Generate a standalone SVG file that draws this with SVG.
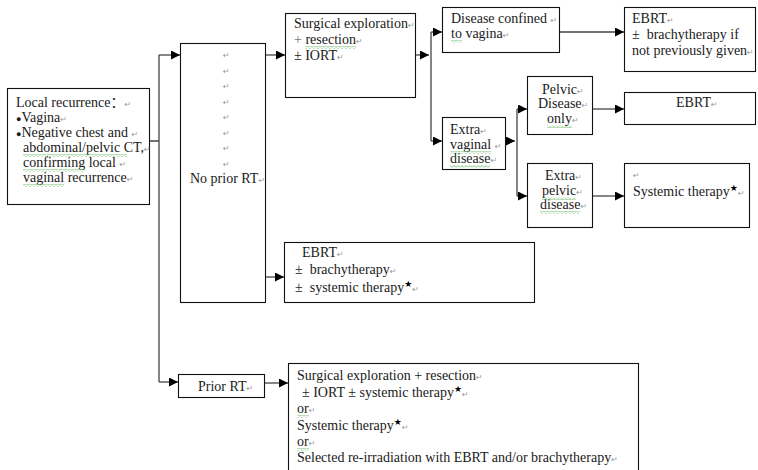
<svg xmlns="http://www.w3.org/2000/svg" width="758" height="470" viewBox="0 0 758 470">
  <style>
    .box { fill: #fff; stroke: #111; stroke-width: 1.1; }
    .t { font-size: 14px; fill: #1a1a1a; }
    .pm { font-family: 'DejaVu Sans', sans-serif; font-size: 8px; fill: #999; }
    .star { font-family: 'DejaVu Sans', sans-serif; font-size: 9px; fill: #000; }
    .ln { fill: none; stroke: #444; stroke-width: 1.3; }
    .ar { fill: none; stroke: #444; stroke-width: 1.3; marker-end: url(#ah); }
    .sq { fill: url(#wave); }
  </style>
  <defs>
    <marker id="ah" viewBox="0 0 10 10" refX="10" refY="5" markerWidth="9" markerHeight="9" markerUnits="userSpaceOnUse" orient="auto">
      <path d="M0,0 L10,5 L0,10 Z" fill="#000"/>
    </marker>
    <!-- wavy spell-check underline -->
    <pattern id="wave" width="4" height="3" patternUnits="userSpaceOnUse">
      <path d="M0,2.5 L2,0.5 L4,2.5" fill="none" stroke="#62b862" stroke-width="0.9"/>
    </pattern>
  </defs>
  <rect width="758" height="470" fill="#fff"/>

  <!-- connectors -->
  <g id="connectors">
    <path class="ln" d="M150,141 H159 M159,55 V382"/>
    <path class="ar" d="M159,55 H180"/>
    <path class="ar" d="M159,382 H178"/>
    <path class="ar" d="M266,55 H285"/>
    <path class="ar" d="M266,277 H284"/>
    <path class="ar" d="M265,383 H288"/>
    <path class="ar" d="M416,55 H429"/>
    <path class="ln" d="M431,32 V141"/>
    <path class="ar" d="M431,32 H442"/>
    <path class="ar" d="M431,141 H442"/>
    <path class="ar" d="M560,32 H624"/>
    <path class="ar" d="M506,141 H515"/>
    <path class="ln" d="M517,109 V196"/>
    <path class="ar" d="M517,109 H527"/>
    <path class="ar" d="M517,196 H527"/>
    <path class="ar" d="M593,109 H624"/>
    <path class="ar" d="M593,196 H624"/>
  </g>

  <g font-family="Liberation Serif, Times New Roman, Noto Sans CJK SC, serif">
  <!-- entry condition -->
  <g id="local-recurrence">
    <rect class="box" x="7.5" y="88.5" width="142" height="116"/>
    <text class="t" x="16" y="107">Local recurrence<tspan font-family="Noto Sans CJK SC, sans-serif">：</tspan><tspan class="pm">↵</tspan></text>
    <text class="t" x="16" y="122"><tspan font-size="9">●</tspan>Vagina<tspan class="pm">↵</tspan></text>
    <text class="t" x="16" y="137"><tspan font-size="9">●</tspan>Negative chest and <tspan class="pm">↵</tspan></text>
    <text class="t" x="23" y="152">abdominal/pelvic CT,<tspan class="pm">↵</tspan></text>
    <text class="t" x="23" y="167">confirming local <tspan class="pm">↵</tspan></text>
    <text class="t" x="23" y="182">vaginal recurrence<tspan class="pm">↵</tspan></text>
    <rect class="sq" x="23" y="154" width="104" height="3"/>
    <rect class="sq" x="23" y="169" width="62" height="3"/>
    <rect class="sq" x="23" y="184" width="41" height="3"/>
  </g>

  <g id="no-prior-rt">
    <rect class="box" x="180.5" y="43.5" width="85" height="259"/>
    <text class="pm" x="223" y="58">↵</text>
    <text class="pm" x="223" y="74">↵</text>
    <text class="pm" x="223" y="89">↵</text>
    <text class="pm" x="223" y="105">↵</text>
    <text class="pm" x="223" y="120">↵</text>
    <text class="pm" x="223" y="136">↵</text>
    <text class="pm" x="223" y="151">↵</text>
    <text class="pm" x="223" y="167">↵</text>
    <text class="t" x="190" y="183">No prior RT<tspan class="pm">↵</tspan></text>
  </g>

  <g id="prior-rt">
    <rect class="box" x="178.5" y="374.5" width="86" height="23"/>
    <text class="t" x="198" y="391">Prior RT<tspan class="pm">↵</tspan></text>
  </g>

  <g id="surgical-exploration">
    <rect class="box" x="285.5" y="13.5" width="130" height="84"/>
    <text class="t" x="294" y="28" textLength="114" lengthAdjust="spacing">Surgical exploration</text>
    <text class="pm" x="408" y="28">↵</text>
    <text class="t" x="294" y="44"><tspan fill="#777">+</tspan> resection<tspan class="pm">↵</tspan></text>
    <text class="t" x="294" y="60">± IORT<tspan class="pm">↵</tspan></text>
    <rect class="sq" x="305" y="46" width="51" height="3"/>
  </g>

  <g id="ebrt-no-prior">
    <rect class="box" x="284.5" y="242.5" width="250" height="60"/>
    <text class="t" x="302" y="257">EBRT<tspan class="pm">↵</tspan></text>
    <text class="t" x="295" y="274">±&#160; brachytherapy<tspan class="pm">↵</tspan></text>
    <text class="t" x="295" y="292">±&#160; systemic therapy<tspan class="star" dy="-5">★</tspan><tspan class="pm" dy="5">↵</tspan></text>
  </g>

  <g id="disease-confined">
    <rect class="box" x="442.5" y="7.5" width="117" height="45"/>
    <text class="t" x="451" y="23">Disease confined <tspan class="pm">↵</tspan></text>
    <text class="t" x="451" y="38">to vagina<tspan class="pm">↵</tspan></text>
    <rect class="sq" x="451" y="40" width="11" height="3"/>
  </g>

  <g id="ebrt-brachy">
    <rect class="box" x="624.5" y="7.5" width="131" height="64"/>
    <text class="t" x="632" y="23">EBRT<tspan class="pm">↵</tspan></text>
    <text class="t" x="632" y="39">±&#160; brachytherapy if</text>
    <text class="t" x="632" y="55">not previously given<tspan class="pm">↵</tspan></text>
  </g>

  <g id="extra-vaginal">
    <rect class="box" x="442.5" y="117.5" width="63" height="52"/>
    <text class="t" x="450" y="134">Extra<tspan class="pm">↵</tspan></text>
    <text class="t" x="450" y="149">vaginal <tspan class="pm">↵</tspan></text>
    <text class="t" x="450" y="163">disease<tspan class="pm">↵</tspan></text>
    <rect class="sq" x="450" y="151" width="41" height="3"/>
    <rect class="sq" x="450" y="165" width="40" height="3"/>
  </g>

  <g id="pelvic-only">
    <rect class="box" x="527.5" y="76.5" width="65" height="58"/>
    <text class="t" x="542" y="94">Pelvic<tspan class="pm">↵</tspan></text>
    <text class="t" x="538" y="108">Disease<tspan class="pm">↵</tspan></text>
    <text class="t" x="547" y="123">only<tspan class="pm">↵</tspan></text>
    <rect class="sq" x="547" y="125" width="25" height="3"/>
  </g>

  <g id="ebrt-pelvic">
    <rect class="box" x="624.5" y="92.5" width="131" height="32"/>
    <text class="t" x="676" y="107">EBRT<tspan class="pm">↵</tspan></text>
  </g>

  <g id="extra-pelvic">
    <rect class="box" x="527.5" y="163.5" width="65" height="64"/>
    <text class="t" x="545" y="180">Extra<tspan class="pm">↵</tspan></text>
    <text class="t" x="542" y="195">pelvic<tspan class="pm">↵</tspan></text>
    <text class="t" x="540" y="209">disease<tspan class="pm">↵</tspan></text>
    <rect class="sq" x="542" y="197" width="34" height="3"/>
    <rect class="sq" x="540" y="211" width="40" height="3"/>
  </g>

  <g id="systemic-therapy">
    <rect class="box" x="624.5" y="163.5" width="125" height="64"/>
    <text class="pm" x="633" y="178">↵</text>
    <text class="t" x="633" y="196">Systemic therapy<tspan class="star" dy="-5">★</tspan><tspan class="pm" dy="5">↵</tspan></text>
  </g>

  <g id="prior-rt-options">
    <rect class="box" x="288.5" y="363.5" width="350" height="110"/>
    <text class="t" x="297" y="380">Surgical exploration + resection<tspan class="pm">↵</tspan></text>
    <text class="t" x="302" y="397">± IORT ± systemic therapy<tspan class="star" dy="-5">★</tspan><tspan class="pm" dy="5">↵</tspan></text>
    <text class="t" x="297" y="413">or<tspan class="pm">↵</tspan></text>
    <text class="t" x="297" y="430">Systemic therapy<tspan class="star" dy="-5">★</tspan><tspan class="pm" dy="5">↵</tspan></text>
    <text class="t" x="297" y="446">or<tspan class="pm">↵</tspan></text>
    <text class="t" x="297" y="462">Selected re-irradiation with EBRT and/or brachytherapy<tspan class="pm">↵</tspan></text>
    <rect class="sq" x="297" y="415" width="12" height="3"/>
    <rect class="sq" x="297" y="448" width="12" height="3"/>
  </g>
  </g>
</svg>
